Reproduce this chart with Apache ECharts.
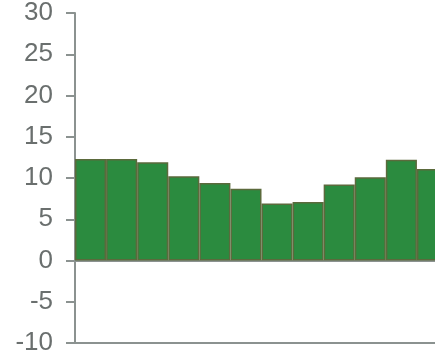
<!DOCTYPE html>
<html>
<head>
<meta charset="utf-8">
<script src="https://cdn.jsdelivr.net/npm/echarts@6/dist/echarts.min.js"></script>
<style>
  html, body { margin: 0; padding: 0; background: #fff; }
  #chart { width: 435px; height: 358px; }
</style>
</head>
<body>
<div id="chart"></div>
<script>
// data
var months = ['1', '2', '3', '4', '5', '6', '7', '8', '9', '10', '11', '12'];
var values = [12.3, 12.3, 11.9, 10.2, 9.4, 8.7, 6.9, 7.1, 9.2, 10.1, 12.2, 11.1];
var yMin = -10, yMax = 30, yStep = 5;

var axisGrey = '#8b9290';

var myChart = echarts.init(document.getElementById('chart'));
var option = {
    animation: false,
    // the plot runs off the right edge, last bar is cut
    grid: { left: 75, top: 13, bottom: 15, width: 373, outerBoundsMode: 'none', containLabel: false },
    xAxis: [
        {
            type: 'category',
            data: months,
            position: 'bottom',
            axisLine: { onZero: false, lineStyle: { color: axisGrey, width: 2 } },
            axisTick: { show: false },
            axisLabel: { show: false }
        },
        {
            type: 'category',
            data: months,
            position: 'top',
            axisLine: { lineStyle: { color: axisGrey, width: 2 } },
            axisTick: { show: false },
            axisLabel: { show: false }
        }
    ],
    yAxis: {
        type: 'value',
        min: yMin,
        max: yMax,
        interval: yStep,
        axisLine: { show: true, lineStyle: { color: axisGrey, width: 2 } },
        axisTick: { show: true, length: 9, lineStyle: { color: axisGrey, width: 2 } },
        axisLabel: {
            color: '#6a6f6e',
            fontFamily: 'Liberation Sans',
            fontSize: 26,
            margin: 22
        },
        splitLine: { show: false }
    },
    series: [
        {
            type: 'bar',
            data: values,
            barCategoryGap: 0,
            itemStyle: {
                color: '#2b8b3f',
                borderColor: '#5b6a3c',
                borderWidth: 1.5
            }
        }
    ]
};
myChart.setOption(option);
</script>
</body>
</html>
